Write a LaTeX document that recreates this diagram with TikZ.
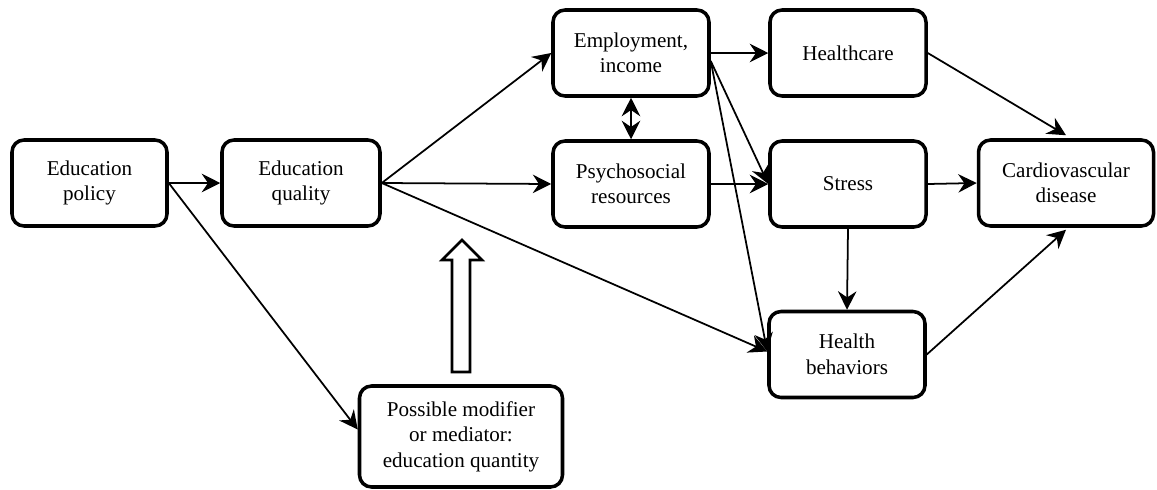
\documentclass[tikz,border=0pt]{standalone}
\usepackage{fontspec}
\setmainfont{Liberation Serif}
\usepackage{tikz}
\usetikzlibrary{calc,arrows.meta}

\tikzset{
	factor/.style={draw, line width=2pt, rounded corners=0.24cm, align=center,
		minimum width=3.1cm, minimum height=1.72cm, inner sep=2pt,
		font=\fontsize{12}{14.5}\selectfont},
	link/.style={line width=1pt, -{Stealth[length=10.5pt,width=10.5pt,inset=3.5pt]}},
	twolink/.style={line width=1pt, {Stealth[length=10.5pt,width=10.5pt,inset=3.5pt]}-{Stealth[length=10.5pt,width=10.5pt,inset=3.5pt]}}
}

\begin{document}
\begin{tikzpicture}
			%%%%% START %%%%%
			\useasboundingbox (0, 0) rectangle (23.14, -9.78);
			
			\node[factor] (policy) at (1.79, -3.66) {Education\\policy};
			\node[factor, minimum width=3.16cm] (quality) at (6.02, -3.66) {Education\\quality};
			
			\node[factor, minimum width=3.12cm] (employ) at (12.62, -1.06) {Employment,\\income};
			\node[factor, minimum width=3.12cm] (psycho) at (12.62, -3.68) {Psychosocial\\resources};
			
			\node[factor, minimum width=3.12cm] (care) at (16.96, -1.06) {Healthcare};
			\node[factor, minimum width=3.12cm] (stress) at (16.96, -3.68) {Stress};
			\node[factor, minimum width=3.12cm] (behav) at (16.94, -7.09) {Health\\behaviors};
			
			\node[factor, minimum width=3.5cm] (cardio) at (21.32, -3.66) {Cardiovascular\\disease};
			
			\node[factor, minimum width=4.06cm, minimum height=2.02cm] (modif) at (9.22, -8.73) {Possible modifier\\or mediator:\\education quantity};
			
			% hollow arrow
			\draw[line width=1.5pt, fill=white] (9.04, -7.44) -- (9.04, -5.20) -- (8.84, -5.20) -- (9.24, -4.80)
				-- (9.64, -5.20) -- (9.40, -5.20) -- (9.40, -7.44) -- cycle;
			
			\draw[link] (policy.east) -- (quality.west);
			\draw[link] (policy.east) -- ([yshift=0.14cm]modif.west);
			
			\draw[link] (quality.east) -- (employ.west);
			\draw[link] (quality.east) -- (psycho.west);
			\draw[link] (quality.east) -- ([yshift=0.06cm]behav.west);
			
			\draw[twolink] (employ.south) -- (psycho.north);
			\draw[link] (employ.east) -- (care.west);
			\draw[link] ([yshift=-0.16cm]employ.east) -- (stress.west);
			\draw[link] ([yshift=-0.16cm]employ.east) -- ([yshift=0.06cm]behav.west);
			
			\draw[link] (psycho.east) -- (stress.west);
			\draw[link] (stress.south) -- (behav.north);
			
			\draw[link] (care.east) -- ([yshift=0.06cm]cardio.north);
			\draw[link] (stress.east) -- (cardio.west);
			\draw[link] (behav.east) -- ([yshift=-0.04cm]cardio.south);
			
			%%%%% END %%%%%
		\end{tikzpicture}
\end{document}
